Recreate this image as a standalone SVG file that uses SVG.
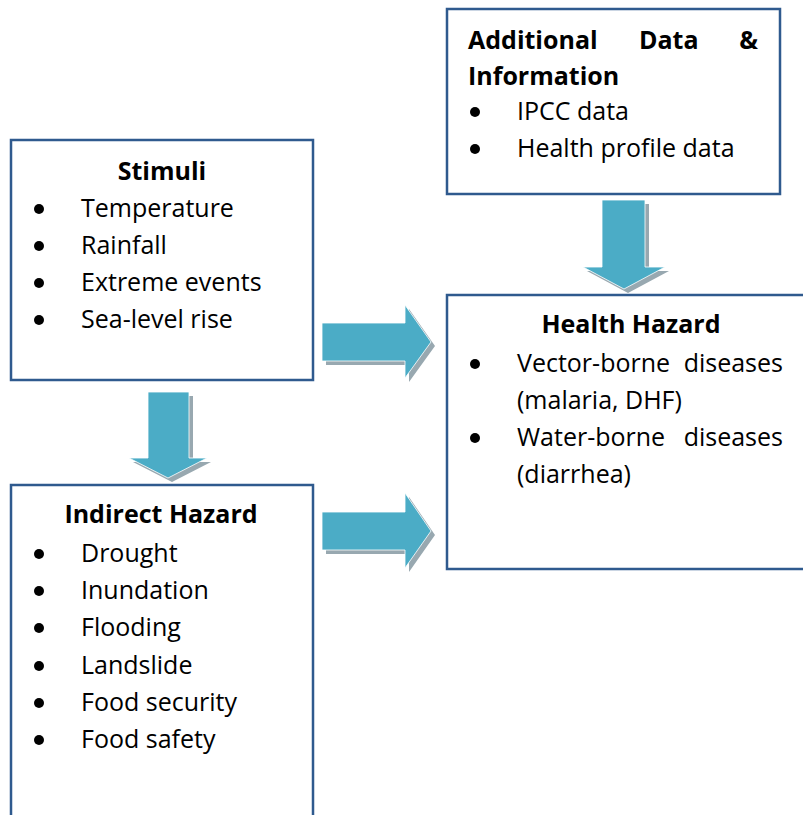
<svg xmlns="http://www.w3.org/2000/svg" width="803" height="815" viewBox="0 0 803 815">
  <style>
    .box { fill: #ffffff; stroke: #2F5A8E; stroke-width: 2.5; }
    .txt { font-family: "Open Sans", "Liberation Sans", sans-serif; font-size: 25px; fill: #000000; }
    .ttl { font-family: "Open Sans", "Liberation Sans", sans-serif; font-size: 25px; font-weight: bold; fill: #000000; }
    .dot { fill: #000000; }
    .arrow { fill: #4BACC6; stroke: #ffffff; stroke-width: 0.8; }
    .shadow { fill: #98A8B0; }
  </style>

  <rect width="803" height="815" fill="#ffffff"/>

  <!-- block arrows -->
  <g id="connectors">
    <!-- Stimuli -> Health Hazard -->
    <polygon class="shadow" points="326,327 409,327 409,309 435,346 409,382 409,365 326,365"/>
    <polygon class="arrow" points="322,323 405,323 405,305 431,342 405,378 405,361 322,361"/>
    <!-- Indirect Hazard -> Health Hazard -->
    <polygon class="shadow" points="326,516 409,516 409,497 435,535 409,572 409,554 326,554"/>
    <polygon class="arrow" points="322,512 405,512 405,493 431,531 405,568 405,550 322,550"/>
    <!-- Stimuli -> Indirect Hazard -->
    <polygon class="shadow" points="152,396 193,396 193,462 211,462 172,482 133,462 152,462"/>
    <polygon class="arrow" points="148,392 189,392 189,458 207,458 168,478 129,458 148,458"/>
    <!-- Additional Data -> Health Hazard -->
    <polygon class="shadow" points="606,204 649,204 649,271 669,271 628,293 587,271 606,271"/>
    <polygon class="arrow" points="602,200 645,200 645,267 665,267 624,289 583,267 602,267"/>
  </g>

  <g id="stimuli">
    <rect class="box" x="11" y="140" width="302" height="240"/>
    <text class="ttl" x="162" y="180" text-anchor="middle">Stimuli</text>
    <circle class="dot" cx="39" cy="209" r="5"/>
    <text class="txt" x="81" y="217">Temperature</text>
    <circle class="dot" cx="39" cy="246" r="5"/>
    <text class="txt" x="81" y="254">Rainfall</text>
    <circle class="dot" cx="39" cy="283" r="5"/>
    <text class="txt" x="81" y="291">Extreme events</text>
    <circle class="dot" cx="39" cy="320" r="5"/>
    <text class="txt" x="81" y="328">Sea-level rise</text>
  </g>

  <g id="indirect-hazard">
    <rect class="box" x="11" y="485" width="302" height="340"/>
    <text class="ttl" x="161" y="523" text-anchor="middle">Indirect Hazard</text>
    <circle class="dot" cx="39" cy="554" r="5"/>
    <text class="txt" x="81" y="562">Drought</text>
    <circle class="dot" cx="39" cy="591" r="5"/>
    <text class="txt" x="81" y="599">Inundation</text>
    <circle class="dot" cx="39" cy="628" r="5"/>
    <text class="txt" x="81" y="636">Flooding</text>
    <circle class="dot" cx="39" cy="666" r="5"/>
    <text class="txt" x="81" y="674">Landslide</text>
    <circle class="dot" cx="39" cy="703" r="5"/>
    <text class="txt" x="81" y="711">Food security</text>
    <circle class="dot" cx="39" cy="740" r="5"/>
    <text class="txt" x="81" y="748">Food safety</text>
  </g>

  <g id="additional-data">
    <rect class="box" x="447" y="9" width="333" height="185"/>
    <text class="ttl" x="468" y="49">Additional</text>
    <text class="ttl" x="639" y="49">Data</text>
    <text class="ttl" x="758" y="49" text-anchor="end">&amp;</text>
    <text class="ttl" x="468" y="85">Information</text>
    <circle class="dot" cx="475" cy="112" r="5"/>
    <text class="txt" x="517" y="120">IPCC data</text>
    <circle class="dot" cx="475" cy="149" r="5"/>
    <text class="txt" x="517" y="157">Health profile data</text>
  </g>

  <g id="health-hazard">
    <rect class="box" x="447" y="295" width="370" height="274"/>
    <text class="ttl" x="631" y="333" text-anchor="middle">Health Hazard</text>
    <circle class="dot" cx="475" cy="364" r="5"/>
    <text class="txt" x="517" y="372">Vector-borne</text>
    <text class="txt" x="783" y="372" text-anchor="end">diseases</text>
    <text class="txt" x="517" y="409">(malaria, DHF)</text>
    <circle class="dot" cx="475" cy="438" r="5"/>
    <text class="txt" x="517" y="446">Water-borne</text>
    <text class="txt" x="783" y="446" text-anchor="end">diseases</text>
    <text class="txt" x="517" y="483">(diarrhea)</text>
  </g>
</svg>
